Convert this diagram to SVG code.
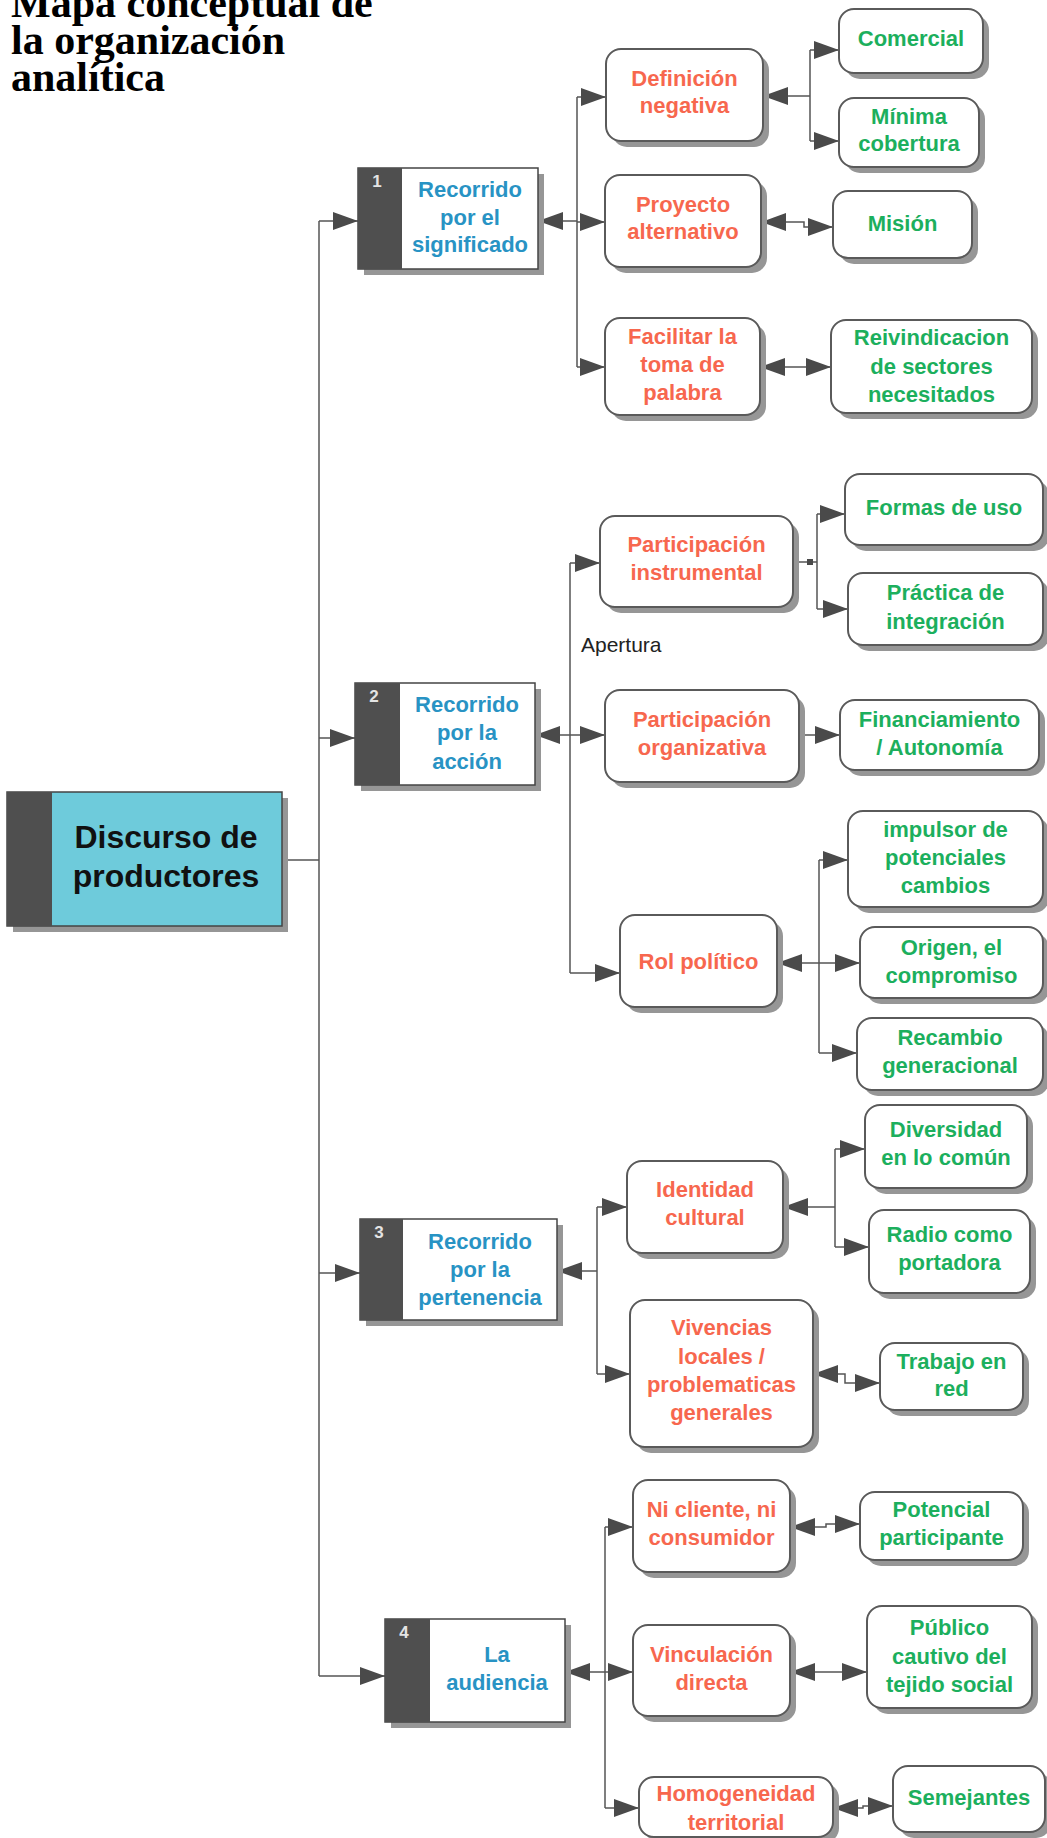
<svg xmlns="http://www.w3.org/2000/svg" width="1047" height="1838" viewBox="0 0 1047 1838">
<defs>
<style>
.sh{fill:#969696}
.rn{fill:#fff;stroke:#5a5a5a;stroke-width:2}
.sq{fill:#fff;stroke:#444;stroke-width:1.5}
.bar{fill:#4f4f4f}
.t{font-family:"Liberation Sans",Arial,sans-serif;font-weight:bold;font-size:22px;text-anchor:middle}
.c{fill:#f7674e}
.g{fill:#1caf5d}
.b{fill:#2893c4}
.num{font-size:17px;fill:#e4e4e4}
.ln{fill:none;stroke:#555;stroke-width:1.5}
.title{font-family:"Liberation Serif","Times New Roman",serif;font-weight:bold;font-size:42px;fill:#000}
</style>
<marker id="ah" markerUnits="userSpaceOnUse" viewBox="0 0 26 20" markerWidth="26" markerHeight="20" refX="25" refY="9" orient="auto-start-reverse"><path d="M0,0 L25,9 L0,18 z" fill="#4a4a4a"/></marker>
</defs>
<rect width="1047" height="1838" fill="#fff"/>

<g id="title">
<text class="title" x="11" y="17">Mapa conceptual de</text>
<text class="title" x="11" y="54">la organización</text>
<text class="title" x="11" y="91">analítica</text>
</g>

<g id="connectors">
<path class="ln" d="M282,860 H319"/>
<path class="ln" d="M319,221 V1676"/>
<path class="ln" d="M319,221 H358" marker-end="url(#ah)"/>
<path class="ln" d="M319,738 H355" marker-end="url(#ah)"/>
<path class="ln" d="M319,1273 H360" marker-end="url(#ah)"/>
<path class="ln" d="M319,1676 H385" marker-end="url(#ah)"/>

<path class="ln" d="M538,221 H577" marker-start="url(#ah)"/>
<path class="ln" d="M577,97 V367"/>
<path class="ln" d="M577,97 H606" marker-end="url(#ah)"/>
<path class="ln" d="M577,222 H605" marker-end="url(#ah)"/>
<path class="ln" d="M577,367 H605" marker-end="url(#ah)"/>
<path class="ln" d="M763,96 H810" marker-start="url(#ah)"/>
<path class="ln" d="M810,50 V141"/>
<path class="ln" d="M810,50 H839" marker-end="url(#ah)"/>
<path class="ln" d="M810,141 H839" marker-end="url(#ah)"/>
<path class="ln" d="M761,222 H804 V227 H833" marker-start="url(#ah)" marker-end="url(#ah)"/>
<path class="ln" d="M760,367 H831" marker-start="url(#ah)" marker-end="url(#ah)"/>

<path class="ln" d="M535,735 H570" marker-start="url(#ah)"/>
<path class="ln" d="M570,563 V973"/>
<path class="ln" d="M570,563 H600" marker-end="url(#ah)"/>
<path class="ln" d="M570,735 H605" marker-end="url(#ah)"/>
<path class="ln" d="M570,973 H620" marker-end="url(#ah)"/>
<path class="ln" d="M793,562 H817"/>
<rect x="807" y="559" width="6" height="6" fill="#4a4a4a"/>
<path class="ln" d="M817,514 V609"/>
<path class="ln" d="M817,514 H845" marker-end="url(#ah)"/>
<path class="ln" d="M817,609 H848" marker-end="url(#ah)"/>
<path class="ln" d="M799,735 H840" marker-end="url(#ah)"/>
<path class="ln" d="M777,963 H819" marker-start="url(#ah)"/>
<path class="ln" d="M819,860 V1053"/>
<path class="ln" d="M819,860 H848" marker-end="url(#ah)"/>
<path class="ln" d="M819,963 H860" marker-end="url(#ah)"/>
<path class="ln" d="M819,1053 H857" marker-end="url(#ah)"/>

<path class="ln" d="M557,1271 H597" marker-start="url(#ah)"/>
<path class="ln" d="M597,1207 V1374"/>
<path class="ln" d="M597,1207 H627" marker-end="url(#ah)"/>
<path class="ln" d="M597,1374 H630" marker-end="url(#ah)"/>
<path class="ln" d="M783,1207 H835" marker-start="url(#ah)"/>
<path class="ln" d="M835,1149 V1247"/>
<path class="ln" d="M835,1149 H865" marker-end="url(#ah)"/>
<path class="ln" d="M835,1247 H869" marker-end="url(#ah)"/>
<path class="ln" d="M813,1374 H845 V1383 H880" marker-start="url(#ah)" marker-end="url(#ah)"/>

<path class="ln" d="M565,1672 H605" marker-start="url(#ah)"/>
<path class="ln" d="M605,1527 V1808"/>
<path class="ln" d="M605,1527 H633" marker-end="url(#ah)"/>
<path class="ln" d="M605,1672 H633" marker-end="url(#ah)"/>
<path class="ln" d="M605,1808 H639" marker-end="url(#ah)"/>
<path class="ln" d="M790,1527 H826 V1524 H860" marker-start="url(#ah)" marker-end="url(#ah)"/>
<path class="ln" d="M790,1672 H867" marker-start="url(#ah)" marker-end="url(#ah)"/>
<path class="ln" d="M833,1808 H863 V1806 H893" marker-start="url(#ah)" marker-end="url(#ah)"/>
</g>

<g id="main">
<rect class="sh" x="13" y="798" width="275" height="134"/>
<rect x="7" y="792" width="275" height="134" fill="#6ecbdb" stroke="#444" stroke-width="1.5"/>
<rect class="bar" x="7" y="792" width="45" height="134"/>
<text class="t" style="font-size:32px;fill:#111"><tspan x="166" y="848">Discurso de</tspan><tspan x="166" y="887">productores</tspan></text>
</g>

<g id="s1">
<rect class="sh" x="364" y="174" width="180" height="101"/>
<rect class="sq" x="358" y="168" width="180" height="101"/>
<rect class="bar" x="358" y="168" width="44" height="101"/>
<text class="t num" x="377" y="187">1</text>
<text class="t b"><tspan x="470" y="197">Recorrido</tspan><tspan x="470" y="225">por el</tspan><tspan x="470" y="252">significado</tspan></text>
</g>
<g id="s2">
<rect class="sh" x="361" y="689" width="180" height="102"/>
<rect class="sq" x="355" y="683" width="180" height="102"/>
<rect class="bar" x="355" y="683" width="45" height="102"/>
<text class="t num" x="374" y="702">2</text>
<text class="t b"><tspan x="467" y="712">Recorrido</tspan><tspan x="467" y="740">por la</tspan><tspan x="467" y="769">acción</tspan></text>
</g>
<g id="s3">
<rect class="sh" x="366" y="1225" width="197" height="101"/>
<rect class="sq" x="360" y="1219" width="197" height="101"/>
<rect class="bar" x="360" y="1219" width="43" height="101"/>
<text class="t num" x="379" y="1238">3</text>
<text class="t b"><tspan x="480" y="1249">Recorrido</tspan><tspan x="480" y="1277">por la</tspan><tspan x="480" y="1305">pertenencia</tspan></text>
</g>
<g id="s4">
<rect class="sh" x="391" y="1625" width="180" height="103"/>
<rect class="sq" x="385" y="1619" width="180" height="103"/>
<rect class="bar" x="385" y="1619" width="45" height="103"/>
<text class="t num" x="404" y="1638">4</text>
<text class="t b"><tspan x="497" y="1662">La</tspan><tspan x="497" y="1690">audiencia</tspan></text>
</g>

<g id="d1"><rect class="sh" x="612" y="55" width="157" height="92" rx="15"/><rect class="rn" x="606" y="49" width="157" height="92" rx="15"/><text class="t c"><tspan x="684.5" y="86">Definición</tspan><tspan x="684.5" y="113">negativa</tspan></text></g>
<g id="d2"><rect class="sh" x="611" y="181" width="156" height="92" rx="15"/><rect class="rn" x="605" y="175" width="156" height="92" rx="15"/><text class="t c"><tspan x="683" y="212">Proyecto</tspan><tspan x="683" y="239">alternativo</tspan></text></g>
<g id="d3"><rect class="sh" x="611" y="324" width="155" height="97" rx="15"/><rect class="rn" x="605" y="318" width="155" height="97" rx="15"/><text class="t c"><tspan x="682.5" y="344">Facilitar la</tspan><tspan x="682.5" y="372">toma de</tspan><tspan x="682.5" y="400">palabra</tspan></text></g>
<g id="d4"><rect class="sh" x="606" y="522" width="193" height="91" rx="15"/><rect class="rn" x="600" y="516" width="193" height="91" rx="15"/><text class="t c"><tspan x="696.5" y="552">Participación</tspan><tspan x="696.5" y="580">instrumental</tspan></text></g>
<g id="d5"><rect class="sh" x="611" y="696" width="194" height="92" rx="15"/><rect class="rn" x="605" y="690" width="194" height="92" rx="15"/><text class="t c"><tspan x="702" y="727">Participación</tspan><tspan x="702" y="755">organizativa</tspan></text></g>
<g id="d6"><rect class="sh" x="626" y="921" width="157" height="92" rx="15"/><rect class="rn" x="620" y="915" width="157" height="92" rx="15"/><text class="t c"><tspan x="698.5" y="969">Rol político</tspan></text></g>
<g id="d7"><rect class="sh" x="633" y="1167" width="156" height="92" rx="15"/><rect class="rn" x="627" y="1161" width="156" height="92" rx="15"/><text class="t c"><tspan x="705" y="1197">Identidad</tspan><tspan x="705" y="1225">cultural</tspan></text></g>
<g id="d8"><rect class="sh" x="636" y="1306" width="183" height="147" rx="15"/><rect class="rn" x="630" y="1300" width="183" height="147" rx="15"/><text class="t c"><tspan x="721.5" y="1335">Vivencias</tspan><tspan x="721.5" y="1364">locales /</tspan><tspan x="721.5" y="1392">problematicas</tspan><tspan x="721.5" y="1420">generales</tspan></text></g>
<g id="d9"><rect class="sh" x="639" y="1486" width="157" height="92" rx="15"/><rect class="rn" x="633" y="1480" width="157" height="92" rx="15"/><text class="t c"><tspan x="711.5" y="1517">Ni cliente, ni</tspan><tspan x="711.5" y="1545">consumidor</tspan></text></g>
<g id="d10"><rect class="sh" x="639" y="1631" width="157" height="91" rx="15"/><rect class="rn" x="633" y="1625" width="157" height="91" rx="15"/><text class="t c"><tspan x="711.5" y="1662">Vinculación</tspan><tspan x="711.5" y="1690">directa</tspan></text></g>
<g id="d11"><rect class="sh" x="645" y="1783" width="194" height="60" rx="15"/><rect class="rn" x="639" y="1777" width="194" height="60" rx="15"/><text class="t c"><tspan x="736" y="1801">Homogeneidad</tspan><tspan x="736" y="1830">territorial</tspan></text></g>

<g id="g1"><rect class="sh" x="845" y="15" width="144" height="64" rx="15"/><rect class="rn" x="839" y="9" width="144" height="64" rx="15"/><text class="t g"><tspan x="911" y="46">Comercial</tspan></text></g>
<g id="g2"><rect class="sh" x="845" y="104" width="140" height="69" rx="15"/><rect class="rn" x="839" y="98" width="140" height="69" rx="15"/><text class="t g"><tspan x="909" y="124">Mínima</tspan><tspan x="909" y="151">cobertura</tspan></text></g>
<g id="g3"><rect class="sh" x="839" y="197" width="139" height="67" rx="15"/><rect class="rn" x="833" y="191" width="139" height="67" rx="15"/><text class="t g"><tspan x="902.5" y="231">Misión</tspan></text></g>
<g id="g4"><rect class="sh" x="837" y="326" width="201" height="93" rx="15"/><rect class="rn" x="831" y="320" width="201" height="93" rx="15"/><text class="t g"><tspan x="931.5" y="345">Reivindicacion</tspan><tspan x="931.5" y="374">de sectores</tspan><tspan x="931.5" y="402">necesitados</tspan></text></g>
<g id="g5"><rect class="sh" x="851" y="480" width="198" height="71" rx="15"/><rect class="rn" x="845" y="474" width="198" height="71" rx="15"/><text class="t g"><tspan x="944" y="515">Formas de uso</tspan></text></g>
<g id="g6"><rect class="sh" x="854" y="579" width="195" height="72" rx="15"/><rect class="rn" x="848" y="573" width="195" height="72" rx="15"/><text class="t g"><tspan x="945.5" y="600">Práctica de</tspan><tspan x="945.5" y="629">integración</tspan></text></g>
<g id="g7"><rect class="sh" x="846" y="706" width="199" height="70" rx="15"/><rect class="rn" x="840" y="700" width="199" height="70" rx="15"/><text class="t g"><tspan x="939.5" y="727">Financiamiento</tspan><tspan x="939.5" y="755">/ Autonomía</tspan></text></g>
<g id="g8"><rect class="sh" x="854" y="817" width="195" height="96" rx="15"/><rect class="rn" x="848" y="811" width="195" height="96" rx="15"/><text class="t g"><tspan x="945.5" y="837">impulsor de</tspan><tspan x="945.5" y="865">potenciales</tspan><tspan x="945.5" y="893">cambios</tspan></text></g>
<g id="g9"><rect class="sh" x="866" y="933" width="183" height="71" rx="15"/><rect class="rn" x="860" y="927" width="183" height="71" rx="15"/><text class="t g"><tspan x="951.5" y="955">Origen, el</tspan><tspan x="951.5" y="983">compromiso</tspan></text></g>
<g id="g10"><rect class="sh" x="863" y="1024" width="186" height="72" rx="15"/><rect class="rn" x="857" y="1018" width="186" height="72" rx="15"/><text class="t g"><tspan x="950" y="1045">Recambio</tspan><tspan x="950" y="1073">generacional</tspan></text></g>
<g id="g11"><rect class="sh" x="871" y="1111" width="162" height="83" rx="15"/><rect class="rn" x="865" y="1105" width="162" height="83" rx="15"/><text class="t g"><tspan x="946" y="1137">Diversidad</tspan><tspan x="946" y="1165">en lo común</tspan></text></g>
<g id="g12"><rect class="sh" x="875" y="1216" width="161" height="83" rx="15"/><rect class="rn" x="869" y="1210" width="161" height="83" rx="15"/><text class="t g"><tspan x="949.5" y="1242">Radio como</tspan><tspan x="949.5" y="1270">portadora</tspan></text></g>
<g id="g13"><rect class="sh" x="886" y="1349" width="143" height="67" rx="15"/><rect class="rn" x="880" y="1343" width="143" height="67" rx="15"/><text class="t g"><tspan x="951.5" y="1369">Trabajo en</tspan><tspan x="951.5" y="1396">red</tspan></text></g>
<g id="g14"><rect class="sh" x="866" y="1498" width="163" height="68" rx="15"/><rect class="rn" x="860" y="1492" width="163" height="68" rx="15"/><text class="t g"><tspan x="941.5" y="1517">Potencial</tspan><tspan x="941.5" y="1545">participante</tspan></text></g>
<g id="g15"><rect class="sh" x="873" y="1612" width="165" height="102" rx="15"/><rect class="rn" x="867" y="1606" width="165" height="102" rx="15"/><text class="t g"><tspan x="949.5" y="1635">Público</tspan><tspan x="949.5" y="1664">cautivo del</tspan><tspan x="949.5" y="1692">tejido social</tspan></text></g>
<g id="g16"><rect class="sh" x="899" y="1772" width="152" height="66" rx="15"/><rect class="rn" x="893" y="1766" width="152" height="66" rx="15"/><text class="t g"><tspan x="969" y="1805">Semejantes</tspan></text></g>

<g id="label-apertura">
<text x="581" y="652" style="font-family:'Liberation Sans',Arial,sans-serif;font-size:21px;fill:#222">Apertura</text>
</g>
</svg>
